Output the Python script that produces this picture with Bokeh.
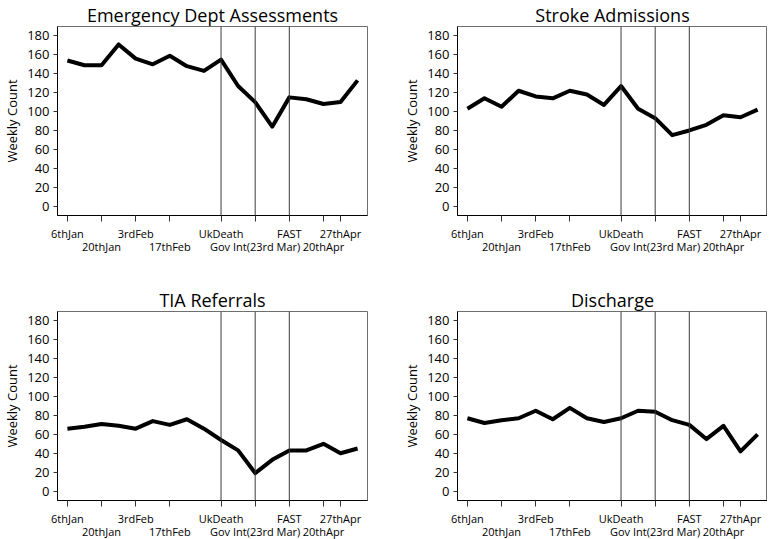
from bokeh.plotting import figure
from bokeh.layouts import column, row
from bokeh.models import FixedTicker, Span, Range1d
from bokeh.embed import file_html
from bokeh.resources import INLINE

# ---- data ----
week_index = list(range(18))  # weekly points from 6th Jan to 4th May
tick_positions = [0, 2, 4, 6, 9, 11, 13, 15, 16]
tick_labels = ["6thJan", "20thJan", "3rdFeb", "17thFeb", "UkDeath",
               "Gov Int(23rd Mar)", "FAST", "20thApr", "27thApr"]
event_positions = [9, 11, 13]  # UkDeath, Gov Int (23rd Mar), FAST
y_ticks = [0, 20, 40, 60, 80, 100, 120, 140, 160, 180]

titles = ["Emergency Dept Assessments", "Stroke Admissions", "TIA Referrals", "Discharge"]
ed_assessments = [154, 149, 149, 171, 156, 150, 159, 148, 143, 155, 127, 110, 84, 115, 113, 108, 110, 133]
stroke_admissions = [103, 114, 105, 122, 116, 114, 122, 118, 107, 127, 103, 93, 75, 80, 86, 96, 94, 102]
tia_referrals = [66, 68, 71, 69, 66, 74, 70, 76, 66, 54, 43, 19, 33, 43, 43, 50, 40, 45]
discharge = [77, 72, 75, 77, 85, 76, 88, 77, 73, 77, 85, 84, 75, 70, 55, 69, 42, 60]

FONT = "Open Sans"


def make_panel(title, values, left, top, bottom, right):
    p = figure(frame_width=310, frame_height=189, output_backend="svg",
               toolbar_location=None, title=title,
               x_range=Range1d(-0.58, 17.58), y_range=Range1d(-10, 190),
               min_border_left=left, min_border_top=top,
               min_border_bottom=bottom, min_border_right=right)
    p.background_fill_color = "white"
    p.border_fill_color = "white"
    p.outline_line_color = "#6e6e6e"
    p.outline_line_width = 1
    p.xgrid.visible = False
    p.ygrid.visible = False

    p.title.align = "center"
    p.title.text_font = FONT
    p.title.text_font_size = "18px"
    p.title.text_font_style = "normal"
    p.title.text_color = "black"
    p.title.standoff = 0

    # x axis with staggered labels
    xa = p.xaxis[0]
    xa.ticker = FixedTicker(ticks=tick_positions)
    overrides = {}
    for i, (pos, lab) in enumerate(zip(tick_positions, tick_labels)):
        overrides[pos] = lab if i % 2 == 0 else "\n" + lab
    xa.major_label_overrides = overrides
    xa.major_tick_out = 6
    xa.major_tick_in = 0
    xa.minor_tick_out = 0
    xa.minor_tick_in = 0
    xa.axis_line_color = "black"
    xa.major_tick_line_color = "#333333"
    xa.major_label_text_font = FONT
    xa.major_label_text_font_size = "11px"
    xa.major_label_text_line_height = 0.9
    xa.major_label_text_color = "black"
    xa.major_label_standoff = 4

    ya = p.yaxis[0]
    ya.ticker = FixedTicker(ticks=y_ticks)
    ya.major_tick_out = 4
    ya.major_tick_in = 0
    ya.minor_tick_out = 0
    ya.minor_tick_in = 0
    ya.axis_line_color = "black"
    ya.major_tick_line_color = "#333333"
    ya.major_label_text_font = FONT
    ya.major_label_text_font_size = "13px"
    ya.major_label_text_color = "black"
    ya.major_label_standoff = 4
    ya.axis_label = "Weekly Count"
    ya.axis_label_text_font = FONT
    ya.axis_label_text_font_size = "13px"
    ya.axis_label_text_font_style = "normal"
    ya.axis_label_text_color = "black"
    ya.axis_label_standoff = 3

    for ev in event_positions:
        p.add_layout(Span(location=ev, dimension="height", line_color="#3a3a3a", line_width=1))

    p.line(week_index, values, line_color="black", line_width=4, line_join="round")
    return p


p1 = make_panel(titles[0], ed_assessments, left=46, top=20, bottom=53, right=18)
p2 = make_panel(titles[1], stroke_admissions, left=72, top=20, bottom=53, right=0)
p3 = make_panel(titles[2], tia_referrals, left=46, top=43, bottom=0, right=18)
p4 = make_panel(titles[3], discharge, left=72, top=43, bottom=0, right=0)

layout = column(row(p1, p2), row(p3, p4))

open("out.html", "w").write(file_html(layout, INLINE))
